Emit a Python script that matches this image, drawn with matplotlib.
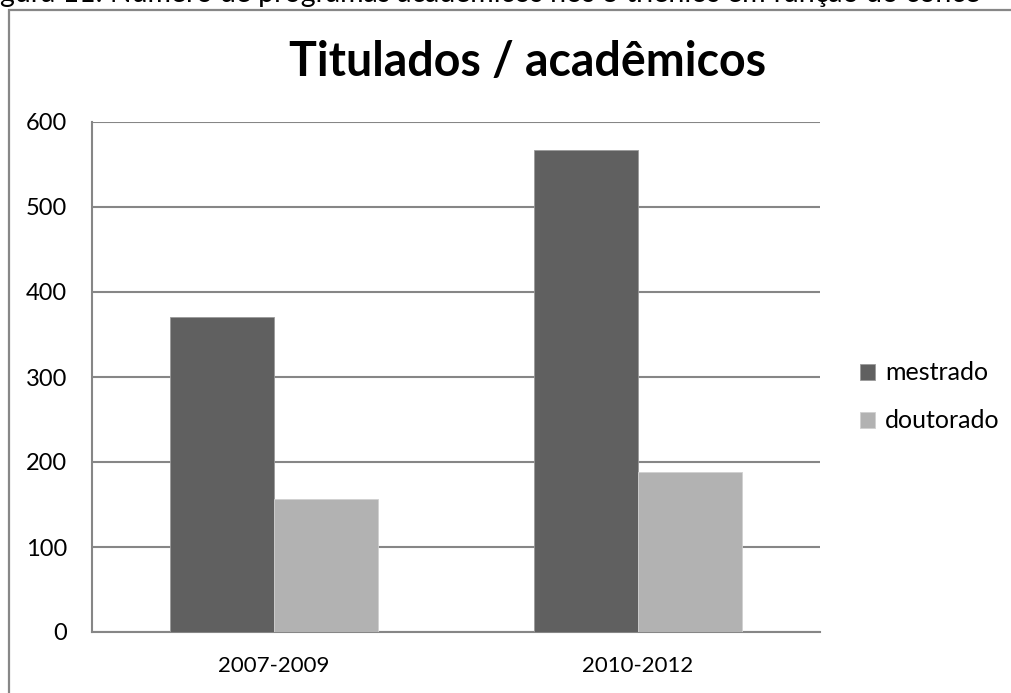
import matplotlib
matplotlib.use("Agg")
import matplotlib.pyplot as plt
import numpy as np
from matplotlib.patches import Rectangle

categories = ["2007-2009", "2010-2012"]
mestrado = [371, 567]
doutorado = [157, 188]
series_names = ["mestrado", "doutorado"]
yticks = [0, 100, 200, 300, 400, 500, 600]
title = "Titulados / acadêmicos"
caption = "gura 11: Número de programas acadêmicos nos 3 triênios em função do conce"

W, H = 1011, 693
plt.rcParams['font.family'] = ['Lato', 'DejaVu Sans']
fig = plt.figure(figsize=(W/100, H/100), dpi=100)
fig.patch.set_facecolor('white')

# chart border
fig.patches.append(Rectangle((9/W, -0.05), 1.1, (H-10)/H + 0.05, transform=fig.transFigure,
                             fill=False, edgecolor='#878787', linewidth=1.6, zorder=0))
# clipped caption
fig.text(0/W, (H-2)/H, caption, fontsize=20.5, ha='left', va='baseline', color='black')

ax = fig.add_axes([92/W, (H-632)/H, 728/W, 510/H])
x = np.arange(len(categories))
bw = 1/3.5
ax.bar(x - bw/2, mestrado, width=bw, color='#606060', edgecolor='#9a9a9a', linewidth=0.6,
       label=series_names[0], zorder=3)
ax.bar(x + bw/2, doutorado, width=bw, color='#b2b2b2', edgecolor='#d0d0d0', linewidth=0.6,
       label=series_names[1], zorder=3)
ax.set_xlim(-0.5, 1.5)
ax.set_ylim(0, 600)
ax.set_yticks(yticks)
ax.set_xticks(x)
ax.set_xticklabels(categories)
ax.tick_params(axis='y', length=0, labelsize=17, pad=18)
ax.tick_params(axis='x', length=0, labelsize=16, pad=17)
ax.grid(axis='y', color='#868686', linewidth=1.5, zorder=0)
for s in ['top', 'right']:
    ax.spines[s].set_visible(False)
ax.spines['left'].set_color('#868686')
ax.spines['left'].set_linewidth(1.5)
ax.spines['bottom'].set_color('#868686')
ax.spines['bottom'].set_linewidth(1.5)

fig.text(528/W, (H-76)/H, title, fontsize=33.5, fontweight='bold', ha='center', va='baseline')

leg = ax.legend(loc='center left', bbox_to_anchor=((860-92)/728, (632-397)/510), frameon=False,
                fontsize=18, handlelength=0.6, handleheight=0.6, handletextpad=0.4,
                labelspacing=1.0, borderpad=0, borderaxespad=0)

fig.savefig("out.png", dpi=100)
